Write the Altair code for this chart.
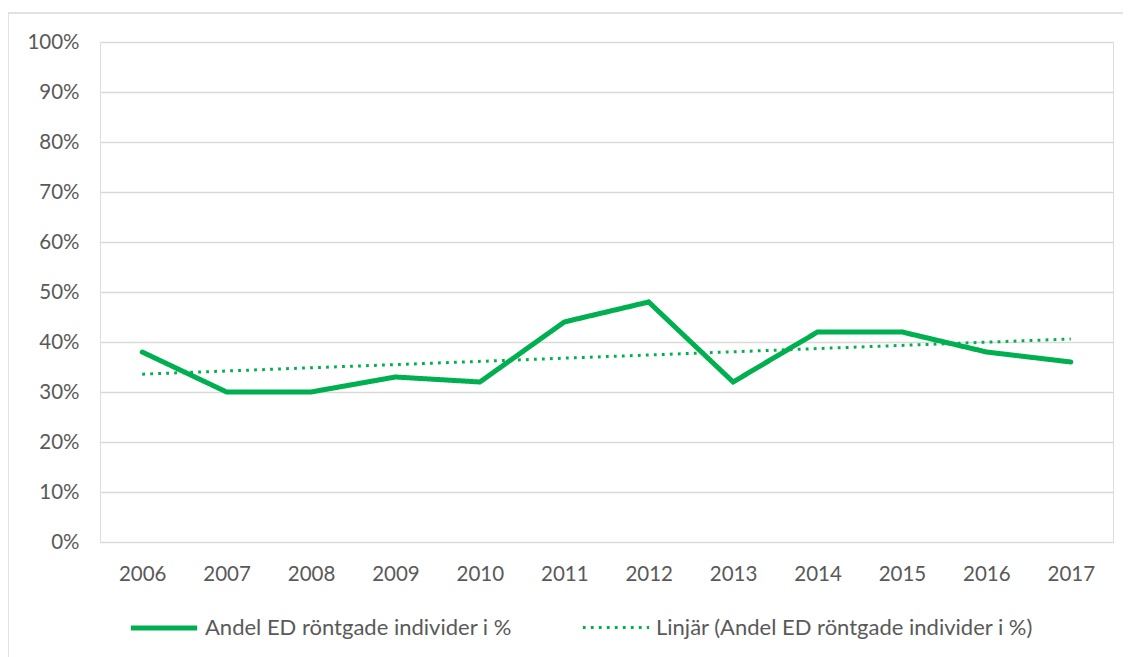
import altair as alt
import pandas as pd

years = [2006, 2007, 2008, 2009, 2010, 2011, 2012, 2013, 2014, 2015, 2016, 2017]
share = [0.38, 0.30, 0.30, 0.33, 0.32, 0.44, 0.48, 0.32, 0.42, 0.42, 0.38, 0.36]
y_ticks = [0, 0.1, 0.2, 0.3, 0.4, 0.5, 0.6, 0.7, 0.8, 0.9, 1.0]

S1 = "Andel ED röntgade individer i %"
S2 = "Linjär (Andel ED röntgade individer i %)"
GREEN = "#00B050"
FONT = "Lato"
TXT = "#595959"

df = pd.DataFrame({"year": years, "share": share, "series": [S1] * len(years)})

legend = alt.Legend(
    title=None, orient="none", direction="horizontal", legendX=28, legendY=550,
    symbolType="stroke", symbolSize=4400, labelFontSize=22, labelFont=FONT,
    labelColor=TXT, labelLimit=600, columnPadding=64, labelOffset=5,
)

x = alt.X("year:Q", title=None,
          scale=alt.Scale(domain=[2005.5, 2017.5], nice=False, zero=False),
          axis=alt.Axis(values=years, format="d", grid=False, domain=False, ticks=False,
                        labelPadding=22, labelFontSize=20.5, labelFont=FONT, labelColor=TXT))
y = alt.Y("share:Q", title=None,
          scale=alt.Scale(domain=[0, 1], nice=False),
          axis=alt.Axis(values=y_ticks, format=".0%", grid=True, gridColor="#d9d9d9",
                        gridWidth=1.3, domain=False, ticks=False, labelPadding=21,
                        labelFontSize=20.5, labelFont=FONT, labelColor=TXT))
color = alt.Color("series:N", scale=alt.Scale(domain=[S1, S2], range=[GREEN, GREEN]), legend=legend)
dash = alt.StrokeDash("series:N", scale=alt.Scale(domain=[S1, S2], range=[[1, 0], [2.8, 5.2]]), legend=legend)
width = alt.StrokeWidth("series:N", scale=alt.Scale(domain=[S1, S2], range=[5, 3]), legend=legend)

main = alt.Chart(df).mark_line(strokeCap="round", strokeJoin="miter").encode(
    x=x, y=y, color=color, strokeDash=dash, strokeWidth=width)

trend = alt.Chart(df).transform_regression("year", "share").transform_calculate(
    series=f"'{S2}'"
).mark_line().encode(x=x, y=y, color=color, strokeDash=dash, strokeWidth=width)

border = alt.Chart(pd.DataFrame({"a": [0]})).mark_rect(
    fillOpacity=0, stroke="#d9d9d9", strokeWidth=1.5
).encode(x=alt.value(-92), x2=alt.value(1200), y=alt.value(-29), y2=alt.value(800))

chart = alt.layer(border, trend, main).properties(
    width=1013, height=500,
    autosize=alt.AutoSizeParams(type="none"),
    padding={"left": 92, "top": 34, "right": 10, "bottom": 115},
).configure_view(stroke=None).configure(font=FONT)

chart.save("out.html", embed_options={"renderer": "svg", "actions": False})
